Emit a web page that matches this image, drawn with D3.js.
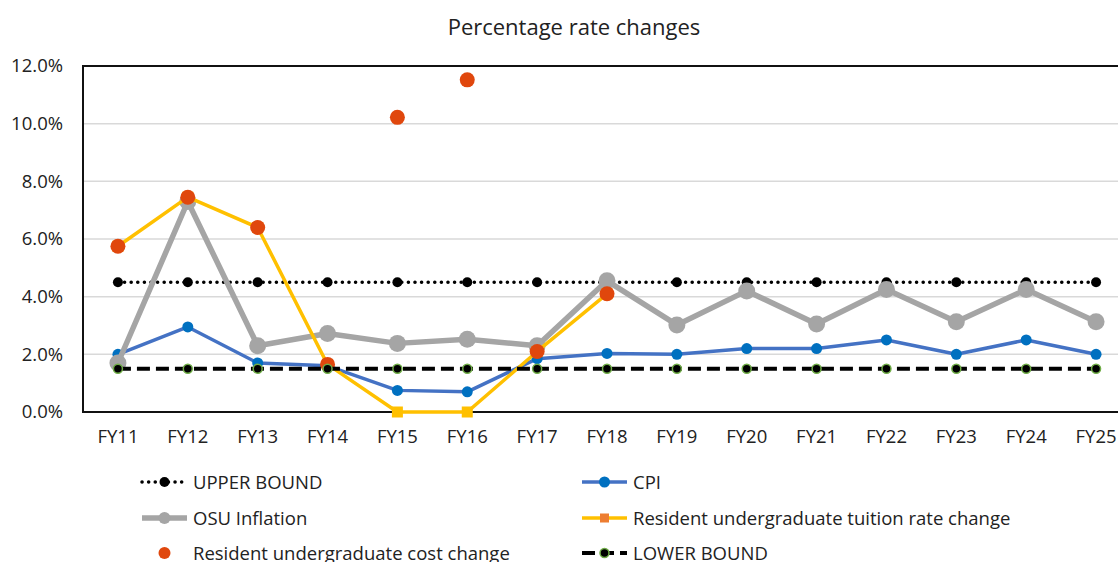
<!DOCTYPE html>
<html>
<head>
<meta charset="utf-8">
<script src="https://cdn.jsdelivr.net/npm/d3@7"></script>
<style>
  body { margin: 0; background: #fff; }
  svg { display: block; font-family: "Open Sans", Lato, sans-serif; }
</style>
</head>
<body>
<svg id="chart" width="1118" height="562"></svg>
<script>
// Chart data
const years = ["FY11", "FY12", "FY13", "FY14", "FY15", "FY16", "FY17", "FY18",
  "FY19", "FY20", "FY21", "FY22", "FY23", "FY24", "FY25"];
const upperBound = [4.5, 4.5, 4.5, 4.5, 4.5, 4.5, 4.5, 4.5, 4.5, 4.5, 4.5, 4.5, 4.5, 4.5, 4.5];
const cpi = [2.0, 2.95, 1.7, 1.6, 0.75, 0.7, 1.85, 2.03, 2.0, 2.2, 2.2, 2.5, 2.0, 2.5, 2.0];
const osuInflation = [1.7, 7.3, 2.3, 2.72, 2.38, 2.52, 2.3, 4.55, 3.02, 4.2, 3.05, 4.25, 3.13, 4.25, 3.13];
const tuitionChange = [5.75, 7.45, 6.4, 1.65, 0.0, 0.0, 2.1, 4.1, null, null, null, null, null, null, null];
const costChange = [5.75, 7.45, 6.4, 1.65, 10.22, 11.52, 2.1, 4.1, null, null, null, null, null, null, null];
const lowerBound = [1.5, 1.5, 1.5, 1.5, 1.5, 1.5, 1.5, 1.5, 1.5, 1.5, 1.5, 1.5, 1.5, 1.5, 1.5];
const yTicks = [0, 2, 4, 6, 8, 10, 12];

const svg = d3.select("#chart");
const font = "'Open Sans', Lato, sans-serif";

// Plot area (right side runs past the window edge, as in the source)
const plot = { left: 83, right: 1131, top: 66, bottom: 412 };

const xScale = d3.scaleBand()
  .domain(years)
  .range([plot.left, plot.right]);

const yScale = d3.scaleLinear()
  .domain([0, 12])
  .range([plot.bottom, plot.top]);

const cx = d => xScale(d) + xScale.bandwidth() / 2;

// Title
svg.append("text")
  .attr("x", 574)
  .attr("y", 35)
  .attr("text-anchor", "middle")
  .attr("font-size", "22px")
  .attr("fill", "#222")
  .text("Percentage rate changes");

// Gridlines
svg.append("g")
  .selectAll("line")
  .data(yTicks.slice(1))
  .join("line")
  .attr("x1", plot.left)
  .attr("x2", plot.right)
  .attr("y1", d => yScale(d))
  .attr("y2", d => yScale(d))
  .attr("stroke", "#d9d9d9")
  .attr("stroke-width", 1.5);

// Y axis labels
svg.append("g")
  .attr("transform", `translate(${plot.left - 20},0)`)
  .call(d3.axisLeft(yScale).tickValues(yTicks).tickSize(0).tickPadding(0)
    .tickFormat(d => d3.format(".1f")(d) + "%"))
  .call(g => g.select(".domain").remove())
  .call(g => g.selectAll("text")
    .attr("font-family", font)
    .attr("font-size", "18.5px")
    .attr("fill", "#222"));

// X axis labels
svg.append("g")
  .attr("transform", `translate(0,${plot.bottom})`)
  .call(d3.axisBottom(xScale).tickSize(0).tickPadding(18))
  .call(g => g.select(".domain").remove())
  .call(g => g.selectAll("text")
    .attr("font-family", font)
    .attr("font-size", "18.5px")
    .attr("fill", "#222"));

// Plot border
svg.append("rect")
  .attr("x", plot.left)
  .attr("y", plot.top)
  .attr("width", plot.right - plot.left)
  .attr("height", plot.bottom - plot.top)
  .attr("fill", "none")
  .attr("stroke", "#111")
  .attr("stroke-width", 2);

const line = d3.line()
  .x(d => cx(d.year))
  .y(d => yScale(d.v));

const toPoints = vals => years.map((year, i) => ({ year, v: vals[i] })).filter(d => d.v != null);

// Series, in drawing order
const series = [
  { name: "UPPER BOUND", values: upperBound, stroke: "#000", width: 3.5, dash: "0.1 6.5",
    marker: "circle", r: 5, fill: "#000", mstroke: "#000", line: true },
  { name: "CPI", values: cpi, stroke: "#4472C4", width: 3.5, dash: null,
    marker: "circle", r: 5.5, fill: "#0070C0", mstroke: "#0070C0", line: true },
  { name: "OSU Inflation", values: osuInflation, stroke: "#A5A5A5", width: 5.5, dash: null,
    marker: "circle", r: 8.5, fill: "#A5A5A5", mstroke: "#A5A5A5", line: true },
  { name: "Resident undergraduate tuition rate change", values: tuitionChange, stroke: "#FFC000", width: 3.5, dash: null,
    marker: "square", r: 5.5, fill: "#FFC000", mstroke: "#FFC000", legendFill: "#ED7D31", line: true },
  { name: "Resident undergraduate cost change", values: costChange, stroke: "none", width: 0, dash: null,
    marker: "circle", r: 7.5, fill: "#E0470D", mstroke: "#E0470D", line: false },
  { name: "LOWER BOUND", values: lowerBound, stroke: "#000", width: 4, dash: "13 6",
    marker: "circle", r: 4.5, fill: "#000", mstroke: "#70AD47", line: true }
];

series.forEach(s => {
  const pts = toPoints(s.values);
  const g = svg.append("g");
  if (s.line) {
    g.append("path")
      .attr("d", line(pts))
      .attr("fill", "none")
      .attr("stroke", s.stroke)
      .attr("stroke-width", s.width)
      .attr("stroke-dasharray", s.dash)
      .attr("stroke-linecap", s.dash && s.dash.startsWith("0.1") ? "round" : "butt")
      .attr("stroke-linejoin", "round");
  }
  if (s.marker === "square") {
    g.selectAll("rect")
      .data(pts)
      .join("rect")
      .attr("x", d => cx(d.year) - s.r)
      .attr("y", d => yScale(d.v) - s.r)
      .attr("width", s.r * 2)
      .attr("height", s.r * 2)
      .attr("fill", s.fill);
  } else {
    g.selectAll("circle")
      .data(pts)
      .join("circle")
      .attr("cx", d => cx(d.year))
      .attr("cy", d => yScale(d.v))
      .attr("r", s.r)
      .attr("fill", s.fill)
      .attr("stroke", s.mstroke)
      .attr("stroke-width", s.mstroke !== s.fill ? 1.5 : 0);
  }
});

// Legend: two columns, three rows
const legendCols = [140, 580];
const legendRows = [482, 518, 553];

series.forEach((s, i) => {
  const x0 = legendCols[i % 2];
  const y0 = legendRows[Math.floor(i / 2)];
  const g = svg.append("g").attr("transform", `translate(${x0},${y0})`);
  if (s.line) {
    g.append("line")
      .attr("x1", 2).attr("x2", 47)
      .attr("stroke", s.stroke)
      .attr("stroke-width", s.width)
      .attr("stroke-dasharray", s.dash)
      .attr("stroke-linecap", s.dash && s.dash.startsWith("0.1") ? "round" : "butt");
  }
  if (s.marker === "square") {
    g.append("rect")
      .attr("x", 24.5 - 4.5).attr("y", -4.5)
      .attr("width", 9).attr("height", 9)
      .attr("fill", s.legendFill);
  } else {
    g.append("circle")
      .attr("cx", 24.5)
      .attr("r", Math.min(s.r, 6))
      .attr("fill", s.fill)
      .attr("stroke", s.mstroke)
      .attr("stroke-width", s.mstroke !== s.fill ? 1.5 : 0);
  }
  g.append("text")
    .attr("x", 53)
    .attr("y", 6.5)
    .attr("font-size", "18.5px")
    .attr("fill", "#222")
    .text(s.name);
});
</script>
</body>
</html>
